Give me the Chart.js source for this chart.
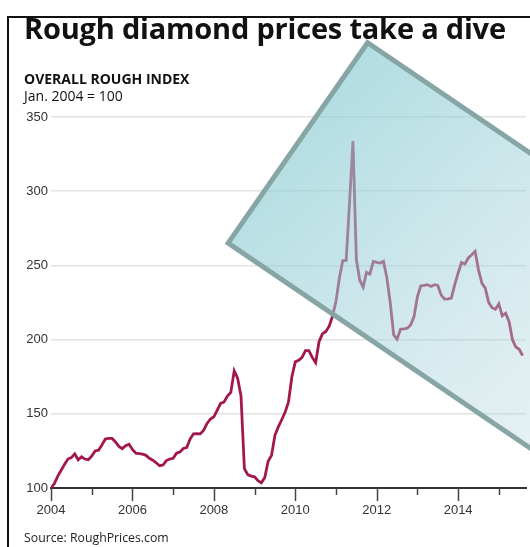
<!DOCTYPE html>
<html>
<head>
<meta charset="utf-8">
<script src="https://cdn.jsdelivr.net/npm/chart.js@4.4.1/dist/chart.umd.min.js"></script>
<style>
  body { margin: 0; background: #fff; }
  #wrap { position: relative; width: 530px; height: 547px; overflow: hidden; font-family: "Open Sans", sans-serif; color: #111; }
  #frame { position: absolute; left: 7px; top: 16px; width: 600px; height: 600px; border-left: 2px solid #111; border-top: 2px solid #111; z-index: 3; }
  #title { position: absolute; left: 24px; top: 8px; font-size: 29px; font-weight: bold; white-space: nowrap; z-index: 2; letter-spacing: -0.2px; }
  #sub1 { position: absolute; left: 24px; top: 69px; font-size: 14px; font-weight: bold; z-index: 2; }
  #sub2 { position: absolute; left: 24px; top: 86px; font-size: 14px; z-index: 2; }
  #source { position: absolute; left: 24px; top: 529px; font-size: 12.3px; color: #222; z-index: 2; }
  canvas { position: absolute; left: 0; top: 0; }
</style>
</head>
<body>
<div id="wrap">
  <div id="frame"></div>
  <div id="title">Rough diamond prices take a dive</div>
  <div id="sub1">OVERALL ROUGH INDEX</div>
  <div id="sub2">Jan. 2004 = 100</div>
  <div id="source">Source: RoughPrices.com</div>
  <canvas id="myChart" width="530" height="547"></canvas>
</div>
<script>
// monthly index, Jan 2004 .. Aug 2015
var startYear = 2004;
var roughIndex = [
  100, 103, 108, 112, 116, 119.5, 120.5, 123, 119, 121, 119.5, 119,
  121.5, 125, 125.5, 129, 133, 133.5, 133.5, 131, 128, 126.5, 128.5, 129.5,
  126, 123.5, 123.2, 122.8, 122, 120, 118.7, 117, 115, 115.5, 118.5, 119.5,
  120, 123.5, 124.3, 126.6, 127.3, 133, 136.5, 136.7, 136.5, 139, 143.5, 146.5,
  148, 152.5, 157, 158, 162, 164.4, 179, 174, 162, 113, 109, 108,
  107.5, 105, 103.5, 107, 118, 122, 135.5, 141.2, 146, 151, 158, 175,
  185, 186, 188, 192.6, 192.6, 188, 184.5, 198.6, 203.8, 205.5, 209, 216,
  226, 241.5, 253.2, 253.4, 293, 333.8, 253.9, 240, 235.4, 245.3, 244.2, 252.7,
  252, 251.6, 252.7, 241.5, 224.6, 203.2, 200.3, 207, 207.3, 207.7, 209.9, 215.5,
  229, 236.3, 236.5, 237, 235.8, 237, 236.5, 230, 227.3, 227.5, 228, 237,
  244.9, 252, 251, 255, 257.2, 259.5, 247, 238, 234.7, 225, 221.5, 220.5,
  224.1, 216, 217.8, 212.2, 200, 195, 193.5, 189.2
];
var yearLabels = ["2004", "2006", "2008", "2010", "2012", "2014"];
var yTicks = [100, 150, 200, 250, 300, 350];

// corners of the "lens" box, in (month, index) units
var lensCorners = [[52.2, 265], [93.3, 400], [190.9, 248.7], [149.8, 113.6]];

var points = [];
for (var i = 0; i < roughIndex.length; i++) {
  points.push({x: i, y: roughIndex[i]});
}

var tickMarks = {
  id: 'tickMarks',
  afterDraw: function(chart) {
    var ctx = chart.ctx;
    var xs = chart.scales.x;
    var bottom = chart.chartArea.bottom;
    ctx.save();
    ctx.strokeStyle = '#444';
    ctx.lineWidth = 1.5;
    for (var m = 0; m <= 132; m += 12) {
      var px = Math.round(xs.getPixelForValue(m)) + 0.5;
      var len = (m % 24 == 0) ? 13 : 7;
      ctx.beginPath();
      ctx.moveTo(px, bottom);
      ctx.lineTo(px, bottom + len);
      ctx.stroke();
    }
    ctx.restore();
  }
};

var lens = {
  id: 'lens',
  afterDatasetsDraw: function(chart) {
    var ctx = chart.ctx;
    var xs = chart.scales.x;
    var ys = chart.scales.y;
    var pts = lensCorners.map(function(c) {
      return [xs.getPixelForValue(c[0]), ys.getPixelForValue(c[1])];
    });
    ctx.save();
    var grad = ctx.createLinearGradient(250, 160, 530, 450);
    grad.addColorStop(0, 'rgba(140,205,212,0.68)');
    grad.addColorStop(1, 'rgba(180,214,220,0.34)');
    ctx.beginPath();
    ctx.moveTo(pts[0][0], pts[0][1]);
    for (var k = 1; k < pts.length; k++) ctx.lineTo(pts[k][0], pts[k][1]);
    ctx.closePath();
    ctx.fillStyle = grad;
    ctx.fill();
    ctx.lineWidth = 5;
    ctx.lineJoin = 'miter';
    ctx.strokeStyle = '#88a5a6';
    ctx.stroke();
    ctx.restore();
  }
};

var ctx = document.getElementById('myChart').getContext('2d');
var chart = new Chart(ctx, {
  type: 'line',
  data: {
    datasets: [{
      label: 'Overall rough index',
      data: points,
      borderColor: '#a3174f',
      borderWidth: 2.8,
      pointRadius: 0,
      tension: 0,
      fill: false
    }]
  },
  options: {
    responsive: false,
    animation: false,
    layout: { padding: { left: 21, right: 4, top: 117, bottom: 29 } },
    plugins: { legend: { display: false }, tooltip: { enabled: false } },
    scales: {
      x: {
        type: 'linear',
        min: 0,
        max: 140,
        afterFit: function(s) { s.height = 30; },
        afterBuildTicks: function(s) {
          s.ticks = yearLabels.map(function(l) { return {value: (parseInt(l) - startYear) * 12}; });
        },
        ticks: {
          color: '#333',
          font: { family: 'Liberation Sans', size: 13 },
          padding: 2,
          maxRotation: 0,
          callback: function(v) { return String(startYear + v / 12); }
        },
        grid: { display: true, drawOnChartArea: false, tickLength: 13, tickColor: 'transparent' },
        border: { display: true, color: '#333', width: 2 }
      },
      y: {
        min: 100,
        max: 350,
        afterFit: function(s) { s.width = 30; },
        afterBuildTicks: function(s) {
          s.ticks = yTicks.map(function(v) { return {value: v}; });
        },
        ticks: {
          color: '#333',
          font: { family: 'Liberation Sans', size: 13 },
          padding: 3
        },
        grid: {
          drawTicks: false,
          lineWidth: 1.5,
          color: function(c) { return c.tick && c.tick.value == 100 ? 'transparent' : '#e2e2e2'; }
        },
        border: { display: false }
      }
    }
  },
  plugins: [lens, tickMarks]
});
</script>
</body>
</html>
